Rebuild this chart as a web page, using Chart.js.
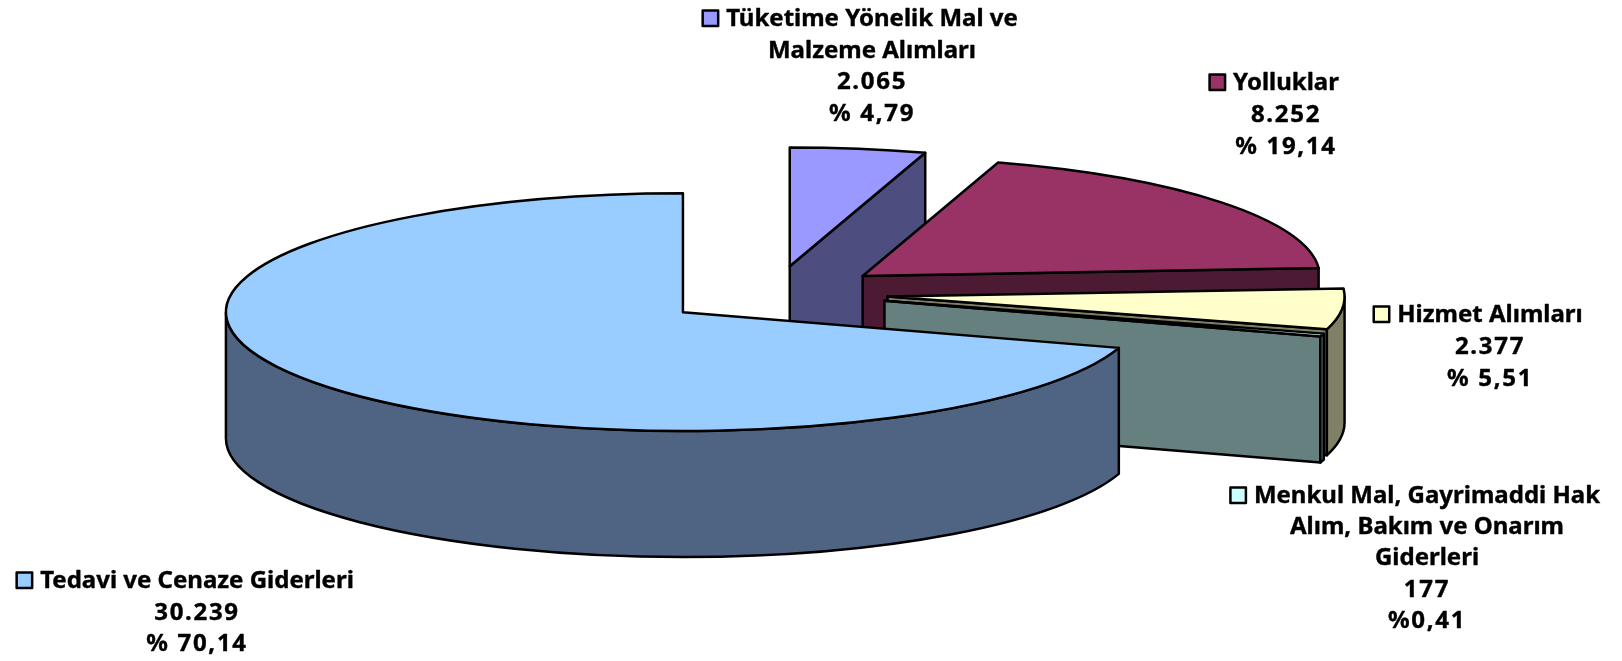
<!DOCTYPE html>
<html>
<head>
<meta charset="utf-8">
<title>Harcama dağılımı</title>
<script src="https://cdn.jsdelivr.net/npm/chart.js@4"></script>
<style>
  html, body { margin: 0; padding: 0; background: #fff; }
  canvas { display: block; }
</style>
</head>
<body>
<canvas id="pie" width="1622" height="661"></canvas>
<script>
/* ── Data ───────────────────────────────────────────────────── */
const categories = [
  ['Tüketime Yönelik Mal ve', 'Malzeme Alımları'],
  ['Yolluklar'],
  ['Hizmet Alımları'],
  ['Menkul Mal, Gayrimaddi Hak', 'Alım, Bakım ve Onarım', 'Giderleri'],
  ['Tedavi ve Cenaze Giderleri']
];
const values      = [2065, 8252, 2377, 177, 30239];
const valueLabels = ['2.065', '8.252', '2.377', '177', '30.239'];
const pctLabels   = ['% 4,79', '% 19,14', '% 5,51', '%0,41', '% 70,14'];
const topColors   = ['#9999FF', '#993366', '#FFFFCC', '#CCFFFF', '#99CCFF'];
const sideColors  = ['#4D4D80', '#4D1A33', '#808066', '#668080', '#4E6482'];

/* ── Pie geometry (page pixels) ─────────────────────────────── */
const PIE = { x: 773, y: 295, r: 457, squash: 0.26, explode: 111.7, depth: 126 };

// the source slices were dragged a little by hand
const SLICE_NUDGE = [[0, 0], [2, -1], [3.5, -1.5], [4.5, -2.5], [0, 0]];

// text centre, first baseline, line height
const LABELS = [
  { x: 872,  y: 26,  lh: 31.6 },
  { x: 1286, y: 90,  lh: 32 },
  { x: 1490, y: 322, lh: 32 },
  { x: 1427, y: 503, lh: 31.2 },
  { x: 197,  y: 588, lh: 31.5 }
];
const FONT = 'bold 24px "Noto Sans", sans-serif';
const LINE = 2.5;

/* ── Plugin: squashes the arcs and adds the side walls ──────── */
function sliceCentre(el, i) {
  const mid = (el.startAngle + el.endAngle) / 2;
  return {
    x: PIE.x + Math.cos(mid) * PIE.explode + SLICE_NUDGE[i][0],
    y: PIE.y + Math.sin(mid) * PIE.explode * PIE.squash + SLICE_NUDGE[i][1]
  };
}

function paintPath(ctx, fill) {
  ctx.fillStyle = fill;
  ctx.strokeStyle = '#000';
  ctx.lineWidth = LINE;
  ctx.lineJoin = 'round';
  ctx.fill();
  ctx.stroke();
}

function drawFace(ctx, c, angle, fill) {
  const px = c.x + Math.cos(angle) * PIE.r;
  const py = c.y + Math.sin(angle) * PIE.r * PIE.squash;
  ctx.beginPath();
  ctx.moveTo(c.x, c.y);
  ctx.lineTo(px, py);
  ctx.lineTo(px, py + PIE.depth);
  ctx.lineTo(c.x, c.y + PIE.depth);
  ctx.closePath();
  paintPath(ctx, fill);
}

function drawSides(ctx, el, c, fill) {
  const ry = PIE.r * PIE.squash;
  if (Math.cos(el.endAngle) > 1e-6) drawFace(ctx, c, el.endAngle, fill);
  if (Math.cos(el.startAngle) < -1e-6) drawFace(ctx, c, el.startAngle, fill);

  // outer wall, front half only
  const a1 = Math.max(el.startAngle, 0);
  const a2 = Math.min(el.endAngle, Math.PI);
  if (a2 > a1) {
    ctx.beginPath();
    ctx.ellipse(c.x, c.y, PIE.r, ry, 0, a1, a2);
    ctx.ellipse(c.x, c.y + PIE.depth, PIE.r, ry, 0, a2, a1, true);
    ctx.closePath();
    paintPath(ctx, fill);
  }
}

const pie3d = {
  id: 'pie3d',
  beforeDatasetDraw(chart, args) {
    const ctx = chart.ctx;
    args.meta.data.forEach((el, i) => {
      const c = sliceCentre(el, i);
      drawSides(ctx, el, c, sideColors[i]);

      // top face: the library's arc under a squashed transform
      ctx.save();
      ctx.translate(c.x, c.y);
      ctx.scale(1, PIE.squash);
      ctx.translate(-el.x, -el.y);
      el.draw(ctx);
      ctx.restore();

      ctx.beginPath();
      ctx.moveTo(c.x, c.y);
      ctx.ellipse(c.x, c.y, PIE.r, PIE.r * PIE.squash, 0, el.startAngle, el.endAngle);
      ctx.closePath();
      ctx.strokeStyle = '#000';
      ctx.lineWidth = LINE;
      ctx.lineJoin = 'round';
      ctx.stroke();
    });
    return false;
  },
  afterDraw(chart) {
    const ctx = chart.ctx;
    ctx.save();
    ctx.font = FONT;
    ctx.textAlign = 'center';
    ctx.textBaseline = 'alphabetic';
    categories.forEach((lines, i) => {
      const pos = LABELS[i];
      const rows = [...lines, valueLabels[i], pctLabels[i]];
      rows.forEach((t, n) => {
        // the digits are wider in the source font
        ctx.letterSpacing = n >= lines.length ? '1.7px' : '0px';
        ctx.fillStyle = '#000';
        ctx.strokeStyle = '#000';
        ctx.lineWidth = 0.4;
        ctx.fillText(t, pos.x, pos.y + n * pos.lh);
        ctx.strokeText(t, pos.x, pos.y + n * pos.lh);
      });
      ctx.letterSpacing = '0px';

      // legend key in front of the first line
      const w = ctx.measureText(lines[0]).width;
      ctx.beginPath();
      ctx.rect(pos.x - w / 2 - 23.5, pos.y - 15.5, 15.5, 15.5);
      ctx.fillStyle = topColors[i];
      ctx.strokeStyle = '#000';
      ctx.lineWidth = LINE;
      ctx.fill();
      ctx.stroke();
    });
    ctx.restore();
  }
};

/* ── Chart ──────────────────────────────────────────────────── */
new Chart(document.getElementById('pie'), {
  type: 'pie',
  data: {
    labels: categories.map(l => l.join(' ')),
    datasets: [{
      data: values,
      backgroundColor: topColors,
      borderWidth: 0
    }]
  },
  options: {
    responsive: false,
    animation: false,
    radius: PIE.r,
    plugins: {
      legend: { display: false },
      tooltip: { enabled: false }
    }
  },
  plugins: [pie3d]
});
</script>
</body>
</html>
